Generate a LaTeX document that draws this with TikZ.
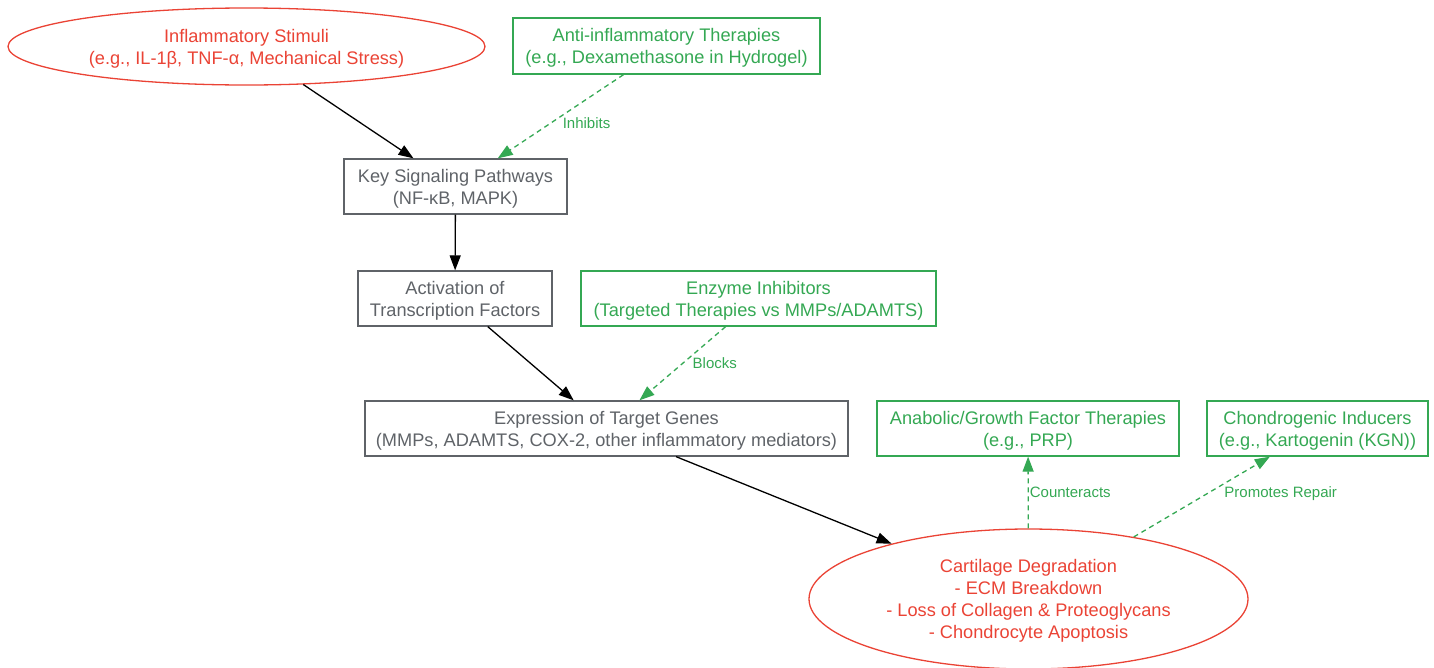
\documentclass[tikz,border=0pt]{standalone}
\usepackage{fontspec}
\setmainfont{Liberation Sans}
\usepackage{xcolor}
\usepackage{tikz}
\usetikzlibrary{shapes.geometric,arrows.meta}
\definecolor{stimred}{HTML}{EA4335}
\definecolor{curegreen}{HTML}{34A853}
\definecolor{stepgray}{HTML}{5F6368}
\tikzset{
  base/.style={line width=1.3pt, align=center, inner sep=0pt, text depth=-1.8pt, font=\fontsize{18.2}{22}\selectfont},
  event/.style={base, ellipse, draw=stimred, text=stimred},
  stepbox/.style={base, rectangle, draw=stepgray, text=stepgray},
  therapy/.style={base, rectangle, draw=curegreen, text=curegreen},
  flow/.style={draw=black, line width=1.3pt, -{Triangle[length=15pt,width=11pt]}},
  treat/.style={draw=curegreen, line width=1.3pt, dash pattern=on 5pt off 4pt, -{Triangle[length=15pt,width=11pt]}},
  lbl/.style={text=curegreen, anchor=west, inner sep=1pt, font=\fontsize{15}{18}\selectfont},
}
\begin{document}
\begin{tikzpicture}[x=1pt,y=-1pt]
  \useasboundingbox (0,0) rectangle (1434,667);
  \node[event, minimum width=477pt, minimum height=77pt] (stimuli) at (246.5,46.5) {Inflammatory Stimuli\\(e.g., IL-1β, TNF-α, Mechanical Stress)};
  \node[therapy, minimum width=307pt, minimum height=56pt] (antiinfl) at (666.5,46) {Anti-inflammatory Therapies\\(e.g., Dexamethasone in Hydrogel)};
  \node[stepbox, minimum width=223pt, minimum height=55pt] (pathways) at (455.5,186.5) {Key Signaling Pathways\\(NF-κB, MAPK)};
  \node[stepbox, minimum width=194pt, minimum height=55pt] (factors) at (455,298.5) {Activation of\\Transcription Factors};
  \node[therapy, minimum width=355pt, minimum height=55pt] (inhib) at (758.5,298.5) {Enzyme Inhibitors\\(Targeted Therapies vs MMPs/ADAMTS)};
  \node[stepbox, minimum width=483pt, minimum height=55pt] (genes) at (606.5,428.5) {Expression of Target Genes\\(MMPs, ADAMTS, COX-2, other inflammatory mediators)};
  \node[therapy, minimum width=302pt, minimum height=55pt] (anabolic) at (1028,428.5) {Anabolic/Growth Factor Therapies\\(e.g., PRP)};
  \node[therapy, minimum width=221pt, minimum height=55pt] (chondro) at (1317.5,428.5) {Chondrogenic Inducers\\(e.g., Kartogenin (KGN))};
  \node[event, minimum width=439pt, minimum height=140pt] (cartilage) at (1028.5,599) {Cartilage Degradation\\- ECM Breakdown\\- Loss of Collagen \& Proteoglycans\\- Chondrocyte Apoptosis};
  \draw[flow] (stimuli) -- (pathways);
  \draw[treat] (antiinfl) -- node[lbl, xshift=0.5pt, yshift=-6.5pt] {Inhibits} (pathways);
  \draw[flow] (pathways) -- (factors);
  \draw[flow] (factors) -- (genes);
  \draw[treat] (inhib) -- node[lbl, xshift=8.5pt] {Blocks} (genes);
  \draw[flow] (genes) -- (cartilage);
  \draw[treat] (cartilage) -- node[lbl] {Counteracts} (anabolic);
  \draw[treat] (cartilage) -- node[lbl, xshift=21pt, yshift=3pt] {Promotes Repair} (chondro);
\end{tikzpicture}
\end{document}
